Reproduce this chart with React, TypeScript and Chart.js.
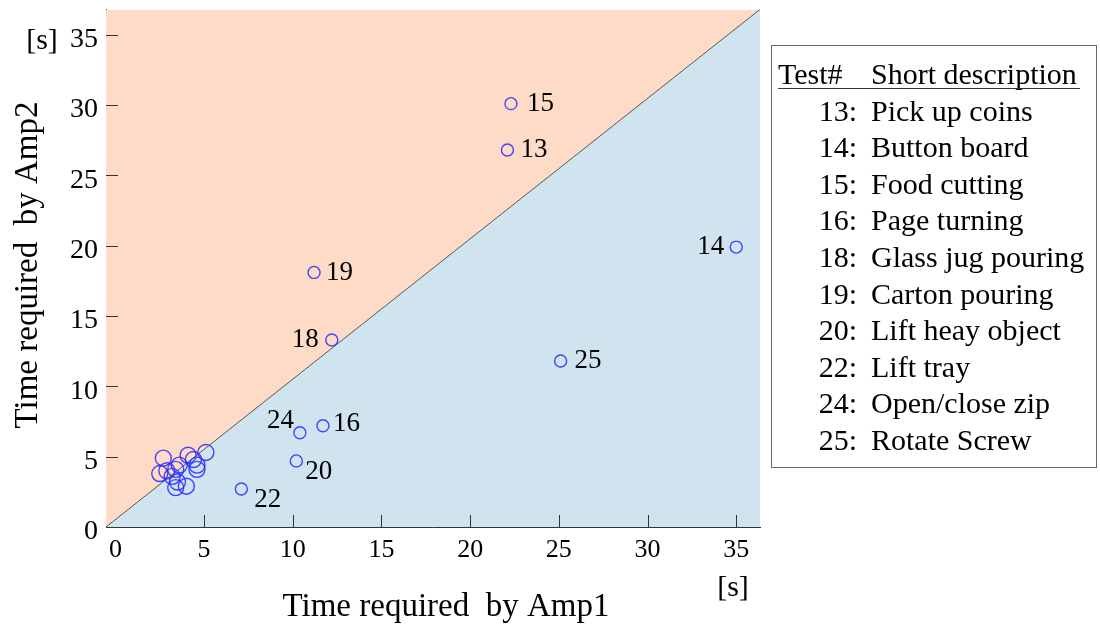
import React, { useEffect, useRef } from "react";
import { Chart, registerables } from "chart.js";

Chart.register(...registerables);

// ---- data ----
const testIds = ["13", "14", "15", "16", "18", "19", "20", "22", "24", "25"];
const testDescriptions = [
  "Pick up coins",
  "Button board",
  "Food cutting",
  "Page turning",
  "Glass jug pouring",
  "Carton pouring",
  "Lift heay object",
  "Lift tray",
  "Open/close zip",
  "Rotate Screw",
];
const amp1Labeled = [22.1, 35.0, 22.3, 11.7, 12.2, 11.2, 10.2, 7.1, 10.4, 25.1];
const amp2Labeled = [26.8, 19.9, 30.1, 7.2, 13.3, 18.1, 4.7, 2.7, 6.7, 11.8];
const amp1Cluster = [2.7, 2.5, 2.9, 3.2, 3.4, 3.6, 3.5, 3.4, 4.0, 4.1, 4.4, 4.6, 4.6, 5.1];
const amp2Cluster = [4.9, 3.8, 4.0, 3.6, 4.1, 4.4, 3.2, 2.8, 2.9, 5.1, 4.8, 4.4, 4.1, 5.3];
const xTickValues = [0, 5, 10, 15, 20, 25, 30, 35];
const yTickValues = [0, 5, 10, 15, 20, 25, 30, 35];
const X_MIN = -0.53;
const X_MAX = 36.34;
const Y_MIN = 0;
const Y_MAX = 36.8;

// label placement (pixel offsets from the point), same order as testIds
const labelOffsets: [number, number, CanvasTextAlign][] = [
  [13, 0, "left"],
  [-12, 0, "right"],
  [16, 0, "left"],
  [10, -2, "left"],
  [-13, 0, "right"],
  [12, 0, "left"],
  [9, 11, "left"],
  [13, 11, "left"],
  [-6, -12, "right"],
  [14, 0, "left"],
];

const SERIF = "'Liberation Serif', 'DejaVu Serif', serif";
const SALMON = "rgb(253,219,199)";
const LIGHTBLUE = "rgb(208,228,240)";
const POINT_COLOR = "rgba(40,40,255,0.85)";

export default function App() {
  const canvasRef = useRef<HTMLCanvasElement | null>(null);

  useEffect(() => {
    const canvas = canvasRef.current;
    if (!canvas) return;

    const diagonal = [
      { x: X_MIN, y: Y_MIN },
      { x: X_MAX, y: Y_MAX },
    ];
    const labeledPts = amp1Labeled.map((x, i) => ({ x, y: amp2Labeled[i] }));
    const clusterPts = amp1Cluster.map((x, i) => ({ x, y: amp2Cluster[i] }));

    const decorPlugin = {
      id: "decor",
      afterDraw(chart: any) {
        const ctx = chart.ctx;
        const xs = chart.scales.x;
        const ys = chart.scales.y;
        const area = chart.chartArea;
        ctx.save();
        // inward tick marks
        ctx.strokeStyle = "#333";
        ctx.lineWidth = 1;
        xTickValues.forEach((v) => {
          if (v === 0) return;
          const px = Math.round(xs.getPixelForValue(v)) + 0.5;
          ctx.beginPath();
          ctx.moveTo(px, area.bottom);
          ctx.lineTo(px, area.bottom - 12);
          ctx.stroke();
        });
        yTickValues.forEach((v) => {
          if (v === 0) return;
          const py = Math.round(ys.getPixelForValue(v)) + 0.5;
          ctx.beginPath();
          ctx.moveTo(area.left, py);
          ctx.lineTo(area.left + 12, py);
          ctx.stroke();
        });
        // point labels
        ctx.fillStyle = "#000";
        ctx.font = `27px ${SERIF}`;
        ctx.textBaseline = "middle";
        testIds.forEach((id, i) => {
          const px = xs.getPixelForValue(amp1Labeled[i]);
          const py = ys.getPixelForValue(amp2Labeled[i]);
          const [dx, dy, align] = labelOffsets[i];
          ctx.textAlign = align;
          ctx.fillText(id, px + dx, py + dy);
        });
        // axis titles
        ctx.font = `33px ${SERIF}`;
        ctx.textAlign = "center";
        ctx.textBaseline = "alphabetic";
        ctx.fillText("Time required  by Amp1", 446, 616);
        ctx.save();
        ctx.translate(37, 265);
        ctx.rotate(-Math.PI / 2);
        ctx.fillText("Time required  by Amp2", 0, 0);
        ctx.restore();
        // units
        ctx.font = `30px ${SERIF}`;
        ctx.textBaseline = "middle";
        ctx.fillText("[s]", 42, 41);
        ctx.fillText("[s]", 733, 588);
        ctx.restore();
      },
    };

    const chart = new Chart(canvas, {
      type: "scatter",
      data: {
        datasets: [
          {
            data: labeledPts,
            order: 0,
            pointRadius: 6,
            pointBorderWidth: 1.4,
            pointBorderColor: POINT_COLOR,
            pointBackgroundColor: "rgba(0,0,0,0)",
          } as any,
          {
            data: clusterPts,
            order: 0,
            pointRadius: 8,
            pointBorderWidth: 1.4,
            pointBorderColor: POINT_COLOR,
            pointBackgroundColor: "rgba(0,0,0,0)",
          } as any,
          {
            data: diagonal,
            order: 1,
            showLine: true,
            fill: "start",
            backgroundColor: LIGHTBLUE,
            borderColor: "#555",
            borderWidth: 1,
            pointRadius: 0,
          } as any,
          {
            data: diagonal,
            order: 2,
            showLine: true,
            fill: "end",
            backgroundColor: SALMON,
            borderWidth: 0,
            borderColor: "rgba(0,0,0,0)",
            pointRadius: 0,
          } as any,
        ],
      },
      options: {
        responsive: false,
        animation: false,
        events: [],
        layout: { padding: { left: 0, top: 9, right: 340, bottom: 0 } },
        plugins: {
          legend: { display: false },
          tooltip: { enabled: false },
          title: { display: false },
        },
        scales: {
          x: {
            type: "linear",
            min: X_MIN,
            max: X_MAX,
            afterBuildTicks: (s: any) => {
              s.ticks = xTickValues.map((v) => ({ value: v }));
            },
            afterFit: (s: any) => {
              s.height = 101;
              s.paddingLeft = 0;
              s.paddingRight = 0;
            },
            grid: { display: false, drawTicks: false },
            border: { display: true, color: "#333", width: 1 },
            ticks: {
              color: "#000",
              font: { family: SERIF, size: 26 },
              padding: 8,
              maxRotation: 0,
              autoSkip: false,
            },
          },
          y: {
            type: "linear",
            min: Y_MIN,
            max: Y_MAX,
            afterBuildTicks: (s: any) => {
              s.ticks = yTickValues.map((v) => ({ value: v }));
            },
            afterFit: (s: any) => {
              s.width = 106;
              s.paddingTop = 0;
              s.paddingBottom = 0;
            },
            grid: { display: false, drawTicks: false },
            border: { display: true, color: "#333", width: 1 },
            ticks: {
              color: "#000",
              font: { family: SERIF, size: 28 },
              padding: 8,
              labelOffset: 5,
              autoSkip: false,
            },
          },
        },
      } as any,
      plugins: [decorPlugin],
    });

    return () => chart.destroy();
  }, []);

  const rowTop = (i: number) => 56 + i * 36.6;
  const textStyle = (left: number, i: number): React.CSSProperties => ({
    position: "absolute",
    left,
    top: rowTop(i),
    height: 36,
    lineHeight: "36px",
    fontSize: 30,
    color: "#000",
    whiteSpace: "nowrap",
  });

  return (
    <div
      style={{
        position: "fixed",
        left: 0,
        top: 0,
        width: 1100,
        height: 628,
        background: "#fff",
        fontFamily: SERIF,
      }}
    >
      <canvas ref={canvasRef} width={1100} height={628} style={{ position: "absolute", left: 0, top: 0 }} />
      <div
        style={{
          position: "absolute",
          left: 771,
          top: 45,
          width: 326,
          height: 423,
          border: "1px solid #666",
          boxSizing: "border-box",
        }}
      />
      <div style={textStyle(778, 0)}>Test#</div>
      <div style={textStyle(871, 0)}>Short description</div>
      <div style={{ position: "absolute", left: 778, top: 88, width: 302, height: 1, background: "#333" }} />
      {testIds.map((id, i) => (
        <React.Fragment key={id}>
          <div style={{ ...textStyle(770, i + 1), width: 87, textAlign: "right" }}>{id}:</div>
          <div style={textStyle(871, i + 1)}>{testDescriptions[i]}</div>
        </React.Fragment>
      ))}
    </div>
  );
}
